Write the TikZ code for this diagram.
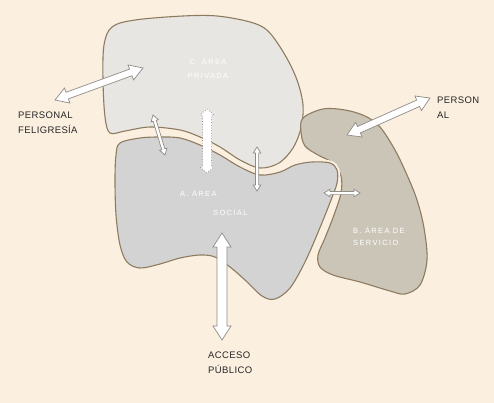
\documentclass[tikz,border=0pt]{standalone}
\usepackage{fontspec}
\setmainfont{Liberation Sans}
\newfontfamily\lblfont[LetterSpace=4]{Liberation Sans}
\newfontfamily\inner[LetterSpace=18]{Liberation Sans}
\usetikzlibrary{calc}
\definecolor{bgc}{HTML}{FBEFDF}
\definecolor{cfill}{HTML}{E8E6E2}
\definecolor{afill}{HTML}{D3D3D4}
\definecolor{bfill}{HTML}{CBC5B8}
\definecolor{edgec}{HTML}{8D7C60}
\definecolor{arrc}{HTML}{8F8B86}
\tikzset{
  zone/.style={draw=edgec, line width=1.1pt},
  halo/.style={draw=bgc, line width=5pt},
  arrowbox/.style={fill=white, draw=arrc, line width=0.7pt, line join=miter},
  dotbox/.style={fill=white, draw=arrc, line width=0.7pt, dotted},
  lbl/.style={inner sep=0pt, font=\lblfont\fontsize{9.5}{11}\selectfont, text=black!85},
  inl/.style={inner sep=0pt, font=\inner\fontsize{7.5}{9}\selectfont, text=white},
}
\newcommand{\dblarr}[6][arrowbox]{%
  \coordinate (pb) at ($(#2)!#4!(#3)$);
  \coordinate (qb) at ($(#3)!#4!(#2)$);
  \draw[#1] (#2) -- ($(pb)!#6!90:(#3)$) -- ($(pb)!#5!90:(#3)$) -- ($(qb)!#5!-90:(#2)$)
    -- ($(qb)!#6!-90:(#2)$) -- (#3) -- ($(qb)!#6!90:(#2)$) -- ($(qb)!#5!90:(#2)$)
    -- ($(pb)!#5!-90:(#3)$) -- ($(pb)!#6!-90:(#3)$) -- cycle;
}
\begin{document}
\begin{tikzpicture}[x=1pt,y=-1pt]
\fill[bgc] (0,0) rectangle (494,403);
\useasboundingbox (0,0) rectangle (494,403);

% C. Area privada
\draw[zone, fill=cfill] plot[smooth cycle, tension=0.55] coordinates {
 (112,27) (135,20) (183,16) (217,16) (250,22) (268,31) (285,55) (297,80) (303,105)
 (301,128) (293,148) (279,163) (260,168) (240,160) (220,147) (200,137) (180,130)
 (150,127) (125,131) (110,133) (105,117) (103,80) (104,45)};

% B. Area de servicio
\draw[zone, fill=bfill] plot[smooth cycle, tension=0.55] coordinates {
 (303,118) (323,109) (345,110) (365,116) (380,127) (395,150) (407,175) (417,200)
 (424,228) (427,260) (420,285) (405,294) (390,291) (360,282) (333,275) (320,267)
 (318,255) (325,238) (334,215) (341,193) (341,176) (333,163) (318,155) (305,146) (301,132)};

% A. Area social (with halo)
\def\apath{plot[smooth cycle, tension=0.55] coordinates {
 (120,143) (140,138) (160,137) (180,138) (200,145) (220,155) (240,167) (260,175)
 (280,172) (295,165) (312,162) (330,163) (337,170) (337,183) (331,200) (319,230)
 (305,262) (290,288) (275,299) (262,296) (245,280) (230,267) (215,257) (200,255)
 (180,258) (160,264) (140,268) (127,262) (120,245) (116,215) (115,180) (116,155)}}
\draw[halo] \apath;
\draw[zone, fill=afill] \apath;

% zone texts
\node[inl, anchor=base] (c1) at (208,65) {C. ÁREA};
\node[inl, anchor=base] (c2) at (208,79) {PRIVADA};
\node[inl, anchor=base west] (a1) at (180,196) {A. ÁREA};
\node[inl, anchor=base west] (a2) at (213,215) {SOCIAL};
\node[inl, anchor=base west] (b1) at (353,233) {B. ÁREA DE};
\node[inl, anchor=base west] (b2) at (353,245) {SERVICIO};

% outside labels
\node[lbl, anchor=base west] (pf1) at (18,118.5) {PERSONAL};
\node[lbl, anchor=base west] (pf2) at (18,133.5) {FELIGRESÍA};
\node[lbl, anchor=base west] (pr1) at (437,103.5) {PERSON};
\node[lbl, anchor=base west] (pr2) at (437,118.5) {AL};
\node[lbl, anchor=base west] (ap1) at (208,358.5) {ACCESO};
\node[lbl, anchor=base west] (ap2) at (208,373.5) {PÚBLICO};

% arrow end points
\coordinate (l1) at (55,100);   \coordinate (l2) at (143,68);
\coordinate (r1) at (347,135);  \coordinate (r2) at (430,98);
\coordinate (d1) at (222,233);  \coordinate (d2) at (222,340);
\coordinate (s1) at (153,115);  \coordinate (s2) at (165,155);
\coordinate (v1) at (207,109);  \coordinate (v2) at (207,173);
\coordinate (m1) at (257,147);  \coordinate (m2) at (257,191);
\coordinate (h1) at (324,193);  \coordinate (h2) at (360,193);

\dblarr{l1}{l2}{13pt}{3.5pt}{8pt}
\dblarr{r1}{r2}{13pt}{3.5pt}{8pt}
\dblarr{d1}{d2}{14pt}{5pt}{9pt}
\dblarr{s1}{s2}{6pt}{1.6pt}{3.8pt}
\dblarr[dotbox]{v1}{v2}{6pt}{4.5pt}{7pt}
\dblarr{m1}{m2}{6pt}{1.6pt}{3.8pt}
\dblarr{h1}{h2}{6pt}{1.6pt}{3.8pt}
\end{tikzpicture}
\end{document}
